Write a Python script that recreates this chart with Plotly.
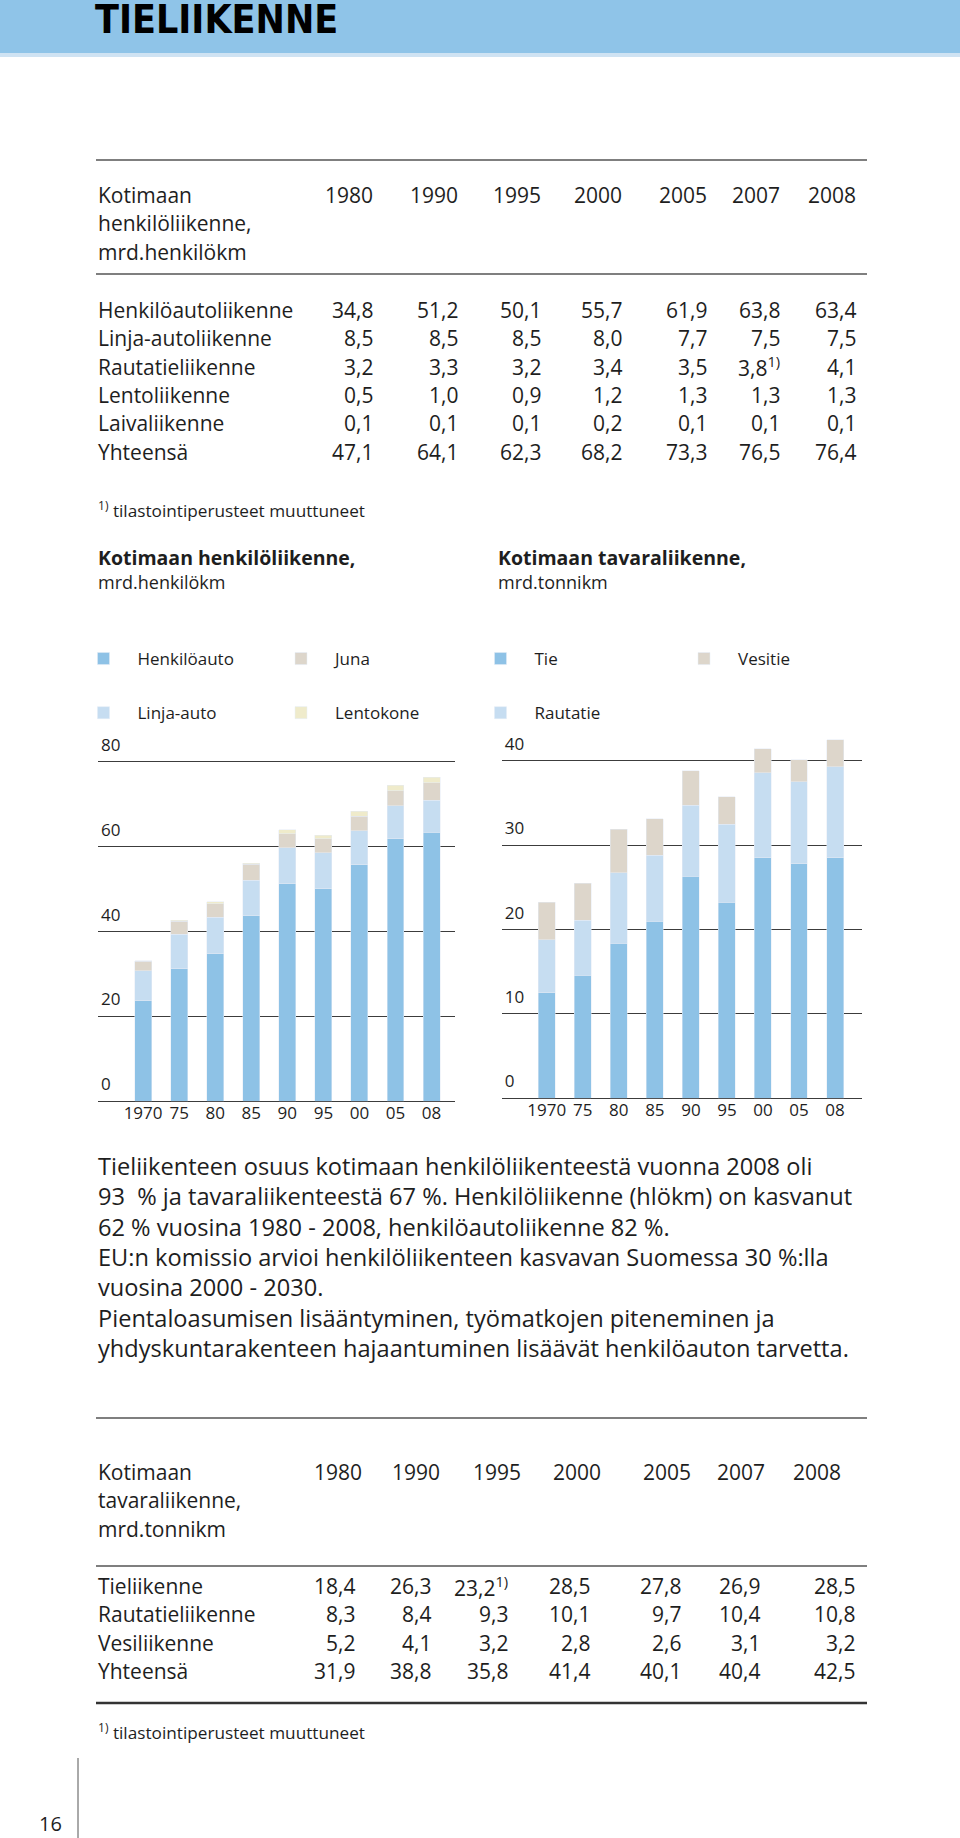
import plotly.graph_objects as go

W, H = 960, 1838
FONT = "Open Sans"
INK = "#1e1e1e"
GRID = "#3c3c3c"
C_DARK = "#8ec2e6"
C_LIGHT = "#c6ddf1"
C_BEIGE = "#ddd6cb"
C_YELLOW = "#efebcb"

# --- chart data (mrd. henkilökm / mrd. tonnikm) ---
chart_years = ["1970", "75", "80", "85", "90", "95", "00", "05", "08"]
henkiloauto = [23.7, 31.2, 34.8, 43.7, 51.2, 50.1, 55.7, 61.9, 63.4]
linja_auto = [7.0, 8.2, 8.5, 8.4, 8.5, 8.5, 8.0, 7.7, 7.5]
juna = [2.3, 3.0, 3.2, 3.7, 3.3, 3.2, 3.4, 3.5, 4.1]
lentokone = [0.1, 0.2, 0.5, 0.3, 1.0, 0.9, 1.2, 1.3, 1.3]

tie = [12.5, 14.6, 18.4, 21.0, 26.3, 23.2, 28.5, 27.8, 28.5]
rautatie = [6.3, 6.5, 8.3, 7.8, 8.4, 9.3, 10.1, 9.7, 10.8]
vesitie = [4.4, 4.4, 5.2, 4.3, 4.1, 3.2, 2.8, 2.6, 3.2]

# --- table 1: kotimaan henkilöliikenne ---
t1_years = ["1980", "1990", "1995", "2000", "2005", "2007", "2008"]
t1_rows = ["Henkilöautoliikenne", "Linja-autoliikenne", "Rautatieliikenne",
           "Lentoliikenne", "Laivaliikenne", "Yhteensä"]
t1_henkiloauto = [34.8, 51.2, 50.1, 55.7, 61.9, 63.8, 63.4]
t1_linja = [8.5, 8.5, 8.5, 8.0, 7.7, 7.5, 7.5]
t1_rautatie = [3.2, 3.3, 3.2, 3.4, 3.5, 3.8, 4.1]
t1_lento = [0.5, 1.0, 0.9, 1.2, 1.3, 1.3, 1.3]
t1_laiva = [0.1, 0.1, 0.1, 0.2, 0.1, 0.1, 0.1]
t1_yhteensa = [47.1, 64.1, 62.3, 68.2, 73.3, 76.5, 76.4]

# --- table 2: kotimaan tavaraliikenne ---
t2_years = ["1980", "1990", "1995", "2000", "2005", "2007", "2008"]
t2_rows = ["Tieliikenne", "Rautatieliikenne", "Vesiliikenne", "Yhteensä"]
t2_tie = [18.4, 26.3, 23.2, 28.5, 27.8, 26.9, 28.5]
t2_rautatie = [8.3, 8.4, 9.3, 10.1, 9.7, 10.4, 10.8]
t2_vesi = [5.2, 4.1, 3.2, 2.8, 2.6, 3.1, 3.2]
t2_yhteensa = [31.9, 38.8, 35.8, 41.4, 40.1, 40.4, 42.5]

paragraph = [
    "Tieliikenteen osuus kotimaan henkilöliikenteestä vuonna 2008 oli",
    "93  % ja tavaraliikenteestä 67 %. Henkilöliikenne (hlökm) on kasvanut",
    "62 % vuosina 1980 - 2008, henkilöautoliikenne 82 %.",
    "EU:n komissio arvioi henkilöliikenteen kasvavan Suomessa 30 %:lla",
    "vuosina 2000 - 2030.",
    "Pientaloasumisen lisääntyminen, työmatkojen piteneminen ja",
    "yhdyskuntarakenteen hajaantuminen lisäävät henkilöauton tarvetta.",
]
footnote = "<sup>1)</sup> tilastointiperusteet muuttuneet"


def px(x):
    return x / W


def py(y):
    return 1 - y / H


def fmt(v):
    return f"{v:.1f}".replace(".", ",")


annotations = []
shapes = []


def text(x, y, s, size=21, anchor="left", weight="normal", color=INK, family=FONT):
    annotations.append(dict(
        x=px(x), y=py(y), xref="paper", yref="paper", text=s, showarrow=False,
        xanchor=anchor, yanchor="middle",
        font=dict(family=family, size=size, color=color, weight=weight),
    ))


def hline(y, x0=96, x1=867, width=1.5, color="#555555"):
    shapes.append(dict(type="line", xref="paper", yref="paper", x0=px(x0), x1=px(x1),
                       y0=py(y), y1=py(y), line=dict(color=color, width=width)))


# banner
shapes.append(dict(type="rect", xref="paper", yref="paper", x0=0, x1=1, y0=py(53), y1=1,
                   fillcolor="#8fc4e8", line_width=0, layer="below"))
shapes.append(dict(type="rect", xref="paper", yref="paper", x0=0, x1=1, y0=py(57), y1=py(53),
                   fillcolor="#cfe3f3", line_width=0, layer="below"))
text(93, 20, "TIELIIKENNE", size=39, weight="bold", color="#000000",
     family="DejaVu Sans Condensed")

# table 1
hline(160)
hline(274)
for i, line in enumerate(["Kotimaan", "henkilöliikenne,", "mrd.henkilökm"]):
    text(96, 195 + i * 28.3, line)
t1_right = [375, 460, 543, 624, 709, 782, 858]
for xr, yr in zip(t1_right, t1_years):
    text(xr, 195, yr, anchor="right")
t1_values = [t1_henkiloauto, t1_linja, t1_rautatie, t1_lento, t1_laiva, t1_yhteensa]
for r, (label, vals) in enumerate(zip(t1_rows, t1_values)):
    y = 310 + r * 28.35
    text(96, y, label)
    for c, (xr, v) in enumerate(zip(t1_right, vals)):
        s = fmt(v)
        if label == "Rautatieliikenne" and t1_years[c] == "2007":
            s += "<sup>1)</sup>"
        text(xr, y, s, anchor="right")
text(96, 509, footnote, size=17.2)

# chart titles
text(96, 557, "Kotimaan henkilöliikenne,", size=19.5, weight="bold")
text(96, 582, "mrd.henkilökm", size=18)
text(496, 557, "Kotimaan tavaraliikenne,", size=19.5, weight="bold")
text(496, 582, "mrd.tonnikm", size=18)

# paragraph
for i, line in enumerate(paragraph):
    text(96, 1166 + i * 30.3, line, size=23.6)

# table 2
hline(1418)
hline(1566)
hline(1703, width=2.6, color="#333333")
for i, line in enumerate(["Kotimaan", "tavaraliikenne,", "mrd.tonnikm"]):
    text(96, 1472 + i * 28.3, line)
t2_year_right = [364, 442, 523, 603, 693, 767, 843]
for xr, yr in zip(t2_year_right, t2_years):
    text(xr, 1472, yr, anchor="right")
t2_right = [357, 433, 510, 592, 683, 762, 857]
t2_values = [t2_tie, t2_rautatie, t2_vesi, t2_yhteensa]
for r, (label, vals) in enumerate(zip(t2_rows, t2_values)):
    y = 1586 + r * 28.3
    text(96, y, label)
    for c, (xr, v) in enumerate(zip(t2_right, vals)):
        s = fmt(v)
        if label == "Tieliikenne" and t2_years[c] == "1995":
            s += "<sup>1)</sup>"
        text(xr, y, s, anchor="right")
text(96, 1731, footnote, size=17.2)

# page number
text(50, 1823, "16", size=20, anchor="center")
shapes.append(dict(type="line", xref="paper", yref="paper", x0=px(78), x1=px(78),
                   y0=0, y1=py(1758), line=dict(color="#555555", width=1)))

# --- bar charts ---
fig = go.Figure()
left_series = [("Henkilöauto", henkiloauto, C_DARK, "legend"),
               ("Linja-auto", linja_auto, C_LIGHT, "legend"),
               ("Juna", juna, C_BEIGE, "legend2"),
               ("Lentokone", lentokone, C_YELLOW, "legend2")]
for name, vals, color, leg in left_series:
    fig.add_trace(go.Bar(x=chart_years, y=vals, name=name, marker_color=color, width=0.47,
                         legend=leg, legendgroup=name, xaxis="x", yaxis="y"))
right_series = [("Tie", tie, C_DARK, "legend3"),
                ("Rautatie", rautatie, C_LIGHT, "legend3"),
                ("Vesitie", vesitie, C_BEIGE, "legend4")]
for name, vals, color, leg in right_series:
    fig.add_trace(go.Bar(x=chart_years, y=vals, name=name, marker_color=color, width=0.47,
                         legend=leg, legendgroup=name, xaxis="x2", yaxis="y2"))

axis_font = dict(family=FONT, size=17, color=INK)
xcommon = dict(type="category", showgrid=False, zeroline=False, showline=False, ticks="",
               tickfont=axis_font, fixedrange=True)
ycommon = dict(showgrid=True, gridcolor=GRID, gridwidth=1.3, zeroline=True, zerolinecolor=GRID,
               zerolinewidth=1.3, showline=False, ticks="", ticklabelposition="inside top",
               ticklabelshift=-5, tickfont=axis_font, tick0=0, fixedrange=True)

left0, lscale = 1101.3, 4.245
right0, rscale = 1098.3, 8.44

legend_common = dict(orientation="v", xanchor="left", yanchor="top", traceorder="grouped",
                     tracegroupgap=29, itemwidth=58, bgcolor="rgba(0,0,0,0)",
                     font=dict(family=FONT, size=17, color=INK))

fig.update_layout(
    width=W, height=H, margin=dict(l=0, r=0, t=0, b=0),
    paper_bgcolor="white", plot_bgcolor="white",
    barmode="stack", bargap=0.5,
    xaxis=dict(domain=[px(98), px(455)], range=[-1.25, 8.65], anchor="y", **xcommon),
    yaxis=dict(domain=[py(left0), py(left0 - 88 * lscale)], range=[0, 88], dtick=20,
               anchor="x", **ycommon),
    xaxis2=dict(domain=[px(501.7), px(861.7)], range=[-1.25, 8.74], anchor="y2", **xcommon),
    yaxis2=dict(domain=[py(right0), py(right0 - 44 * rscale)], range=[0, 44], dtick=10,
                anchor="x2", **ycommon),
    legend=dict(x=px(69.5), y=py(641), **legend_common),
    legend2=dict(x=px(267), y=py(641), **legend_common),
    legend3=dict(x=px(466.5), y=py(641), **legend_common),
    legend4=dict(x=px(670), y=py(641), **legend_common),
    annotations=annotations,
    shapes=shapes,
)

fig.write_html("out.html", config={"displayModeBar": False},
               post_script="document.body.style.margin='0';")
